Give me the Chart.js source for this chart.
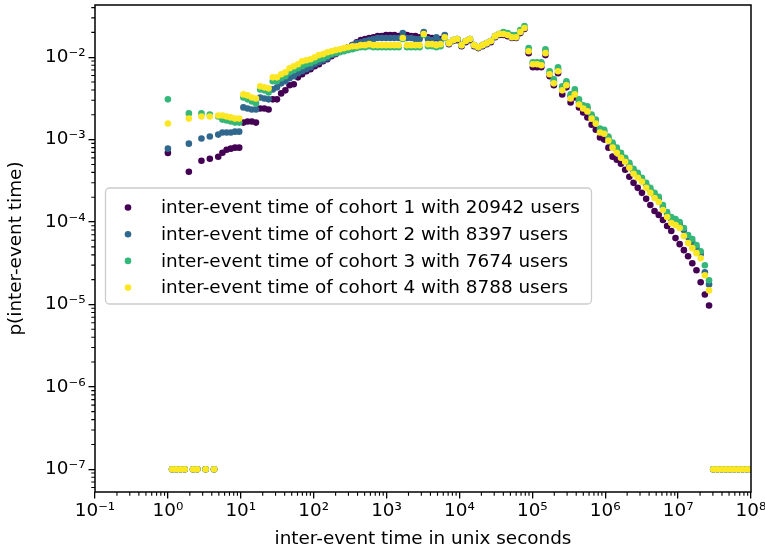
<!DOCTYPE html>
<html>
<head>
<meta charset="utf-8">
<script src="https://cdn.jsdelivr.net/npm/chart.js@4.4.0/dist/chart.umd.min.js"></script>
<style>
  html, body { margin: 0; padding: 0; background: #fff; }
  #wrap { width: 765px; height: 554px; }
</style>
</head>
<body>
<div id="wrap"><canvas id="chart"></canvas></div>
<script>
// left edge of each log bin (seconds)
const binStarts = [
  1, 1.142, 1.303, 1.488, 1.699, 1.940, 2.215, 2.529, 2.887, 3.296,
  3.763, 4.296, 4.905, 5.600, 6.394, 7.300, 8.334, 9.515, 10.86, 12.40,
  14.16, 16.17, 18.46, 21.07, 24.06, 27.47, 31.36, 35.81, 40.88, 46.67,
  53.29, 60.84, 69.46, 79.30, 90.54, 103.4, 118.0, 134.8, 153.8, 175.6,
  200.5, 229.0, 261.4, 298.4, 340.7, 389.0, 444.1, 507.1, 578.9, 661.0,
  754.6, 861.6, 983.7, 1123, 1282, 1464, 1671, 1908, 2179, 2487,
  2840, 3242, 3702, 4226, 4825, 5509, 6290, 7181, 8199, 9361,
  10690, 12200, 13930, 15900, 18160, 20730, 23670, 27020, 30850, 35230,
  40220, 45920, 52420, 59850, 68330, 78020, 89070, 101700, 116100, 132600,
  151300, 172800, 197300, 225200, 257200, 293600, 335200, 382700, 436900, 498800,
  569500, 650200, 742400, 847600, 967700, 1.105e6, 1.261e6, 1.440e6, 1.644e6, 1.877e6,
  2.143e6, 2.447e6, 2.794e6, 3.190e6, 3.642e6, 4.158e6, 4.747e6, 5.419e6, 6.187e6, 7.064e6,
  8.065e6, 9.208e6, 1.051e7, 1.200e7, 1.370e7, 1.565e7, 1.786e7, 2.039e7, 2.328e7, 2.658e7,
  3.035e7, 3.465e7, 3.956e7, 4.517e7, 5.157e7, 5.888e7, 6.722e7, 7.674e7, 8.762e7, 1e8
];

// empty bins are plotted at 1e-7
const cohort1 = [
  6.9e-4, 1e-7, 1e-7, 1e-7, 1e-7, 4.07e-4, 1e-7, 1e-7, 5.55e-4, 1e-7,
  5.87e-4, 1e-7, 6.2e-4, 6.94e-4, 7.55e-4, 7.77e-4, 7.99e-4, 7.99e-4, 1.61e-3, 1.66e-3,
  1.66e-3, 1.61e-3, 2.39e-3, 2.39e-3, 2.32e-3, 3.08e-3, 3.08e-3, 3.64e-3, 3.96e-3, 4.56e-3,
  4.69e-3, 5.70e-3, 6.21e-3, 6.75e-3, 7.14e-3, 7.77e-3, 8.22e-3, 8.94e-3, 9.45e-3, 1.03e-2,
  1.09e-2, 1.18e-2, 1.25e-2, 1.32e-2, 1.40e-2, 1.52e-2, 1.61e-2, 1.66e-2, 1.71e-2, 1.75e-2,
  1.80e-2, 1.80e-2, 1.86e-2, 1.86e-2, 1.86e-2, 1.80e-2, 1.91e-2, 1.86e-2, 1.80e-2, 1.80e-2,
  1.75e-2, 1.96e-2, 1.75e-2, 1.71e-2, 1.71e-2, 1.66e-2, 1.80e-2, 1.44e-2, 1.57e-2, 1.61e-2,
  1.36e-2, 1.52e-2, 1.61e-2, 1.36e-2, 1.29e-2, 1.36e-2, 1.44e-2, 1.52e-2, 1.75e-2, 1.86e-2,
  1.86e-2, 1.80e-2, 1.71e-2, 1.71e-2, 1.96e-2, 2.20e-2, 1.12e-2, 7.55e-3, 7.55e-3, 7.55e-3,
  1.06e-2, 5.87e-3, 4.56e-3, 6.38e-3, 3.54e-3, 4.31e-3, 2.83e-3, 3.25e-3, 2.46e-3, 2.13e-3,
  1.86e-3, 1.52e-3, 1.32e-3, 1.06e-3, 1.00e-3, 7.99e-4, 6.21e-4, 5.70e-4, 5.10e-4, 4.31e-4,
  3.54e-4, 2.99e-4, 2.60e-4, 2.26e-4, 1.91e-4, 1.61e-4, 1.36e-4, 1.22e-4, 1.06e-4, 8.94e-5,
  7.77e-5, 6.38e-5, 5.39e-5, 4.56e-5, 3.85e-5, 3.16e-5, 2.60e-5, 1.86e-5, 1.32e-5, 9.72e-6,
  1e-7, 1e-7, 1e-7, 1e-7, 1e-7, 1e-7, 1e-7, 1e-7, 1e-7, 1e-7
];
const cohort2 = [
  7.77e-4, 1e-7, 1e-7, 1e-7, 1e-7, 8.94e-4, 1e-7, 1e-7, 1.03e-3, 1e-7,
  1.09e-3, 1e-7, 1.15e-3, 1.22e-3, 1.22e-3, 1.22e-3, 1.25e-3, 1.25e-3, 2.46e-3, 2.39e-3,
  2.32e-3, 2.32e-3, 3.25e-3, 3.16e-3, 3.08e-3, 4.07e-3, 4.31e-3, 4.82e-3, 5.10e-3, 5.55e-3,
  5.87e-3, 6.38e-3, 6.75e-3, 7.14e-3, 7.55e-3, 8.22e-3, 8.69e-3, 9.19e-3, 9.72e-3, 1.06e-2,
  1.12e-2, 1.18e-2, 1.25e-2, 1.32e-2, 1.40e-2, 1.48e-2, 1.52e-2, 1.57e-2, 1.61e-2, 1.66e-2,
  1.71e-2, 1.71e-2, 1.71e-2, 1.71e-2, 1.71e-2, 1.71e-2, 1.96e-2, 1.71e-2, 1.71e-2, 1.66e-2,
  1.66e-2, 2.02e-2, 1.66e-2, 1.61e-2, 1.75e-2, 1.57e-2, 1.86e-2, 1.48e-2, 1.61e-2, 1.66e-2,
  1.40e-2, 1.57e-2, 1.66e-2, 1.40e-2, 1.32e-2, 1.40e-2, 1.48e-2, 1.57e-2, 1.80e-2, 1.91e-2,
  1.91e-2, 1.86e-2, 1.75e-2, 1.75e-2, 2.02e-2, 2.26e-2, 1.22e-2, 8.45e-3, 8.45e-3, 8.45e-3,
  1.18e-2, 6.38e-3, 5.10e-3, 7.14e-3, 4.07e-3, 4.82e-3, 3.35e-3, 3.74e-3, 2.83e-3, 2.46e-3,
  2.39e-3, 1.91e-3, 1.66e-3, 1.29e-3, 1.25e-3, 1.03e-3, 8.69e-4, 7.55e-4, 6.56e-4, 5.70e-4,
  4.96e-4, 4.19e-4, 3.74e-4, 3.25e-4, 2.83e-4, 2.46e-4, 2.13e-4, 1.91e-4, 1.52e-4, 1.25e-4,
  1.09e-4, 1.03e-4, 9.45e-5, 7.99e-5, 6.56e-5, 5.70e-5, 4.82e-5, 4.07e-5, 2.46e-5, 1.75e-5,
  1e-7, 1e-7, 1e-7, 1e-7, 1e-7, 1e-7, 1e-7, 1e-7, 1e-7, 1e-7
];
const cohort3 = [
  3.08e-3, 1e-7, 1e-7, 1e-7, 1e-7, 2.08e-3, 1e-7, 1e-7, 2.08e-3, 1e-7,
  2.02e-3, 1e-7, 1.91e-3, 1.75e-3, 1.71e-3, 1.66e-3, 1.61e-3, 1.61e-3, 3.25e-3, 3.08e-3,
  2.91e-3, 2.75e-3, 4.07e-3, 3.96e-3, 3.74e-3, 5.10e-3, 5.10e-3, 5.55e-3, 5.87e-3, 6.56e-3,
  6.94e-3, 7.34e-3, 7.77e-3, 8.22e-3, 8.45e-3, 8.94e-3, 9.45e-3, 9.72e-3, 1.03e-2, 1.09e-2,
  1.12e-2, 1.15e-2, 1.18e-2, 1.22e-2, 1.25e-2, 1.29e-2, 1.32e-2, 1.32e-2, 1.36e-2, 1.32e-2,
  1.32e-2, 1.32e-2, 1.32e-2, 1.32e-2, 1.32e-2, 1.32e-2, 1.66e-2, 1.32e-2, 1.32e-2, 1.32e-2,
  1.32e-2, 1.86e-2, 1.36e-2, 1.36e-2, 1.32e-2, 1.36e-2, 1.71e-2, 1.48e-2, 1.61e-2, 1.66e-2,
  1.40e-2, 1.57e-2, 1.66e-2, 1.40e-2, 1.32e-2, 1.40e-2, 1.48e-2, 1.57e-2, 1.80e-2, 1.91e-2,
  2.02e-2, 1.96e-2, 1.86e-2, 1.86e-2, 2.14e-2, 2.39e-2, 1.29e-2, 8.69e-3, 8.69e-3, 8.69e-3,
  1.25e-2, 6.75e-3, 5.39e-3, 7.55e-3, 4.43e-3, 5.10e-3, 3.54e-3, 4.07e-3, 3.08e-3, 2.60e-3,
  2.53e-3, 2.02e-3, 1.75e-3, 1.36e-3, 1.32e-3, 1.09e-3, 9.19e-4, 7.99e-4, 6.94e-4, 6.03e-4,
  5.24e-4, 4.43e-4, 3.96e-4, 3.44e-4, 2.99e-4, 2.60e-4, 2.26e-4, 2.02e-4, 1.61e-4, 1.32e-4,
  1.15e-4, 1.09e-4, 1.00e-4, 8.45e-5, 6.94e-5, 6.21e-5, 5.24e-5, 4.43e-5, 2.99e-5, 1.96e-5,
  1e-7, 1e-7, 1e-7, 1e-7, 1e-7, 1e-7, 1e-7, 1e-7, 1e-7, 1e-7
];
const cohort4 = [
  1.57e-3, 1e-7, 1e-7, 1e-7, 1e-7, 1.80e-3, 1e-7, 1e-7, 1.91e-3, 1e-7,
  1.91e-3, 1e-7, 1.96e-3, 1.96e-3, 1.91e-3, 1.86e-3, 1.80e-3, 1.80e-3, 3.54e-3, 3.44e-3,
  3.25e-3, 3.16e-3, 4.43e-3, 4.31e-3, 4.19e-3, 5.70e-3, 5.70e-3, 6.21e-3, 6.56e-3, 7.34e-3,
  7.77e-3, 8.22e-3, 8.94e-3, 9.19e-3, 9.45e-3, 1.00e-2, 1.06e-2, 1.09e-2, 1.15e-2, 1.18e-2,
  1.22e-2, 1.25e-2, 1.29e-2, 1.32e-2, 1.36e-2, 1.36e-2, 1.40e-2, 1.40e-2, 1.44e-2, 1.40e-2,
  1.40e-2, 1.40e-2, 1.40e-2, 1.40e-2, 1.40e-2, 1.40e-2, 1.71e-2, 1.40e-2, 1.40e-2, 1.40e-2,
  1.40e-2, 1.91e-2, 1.44e-2, 1.44e-2, 1.40e-2, 1.44e-2, 1.75e-2, 1.48e-2, 1.61e-2, 1.66e-2,
  1.40e-2, 1.57e-2, 1.66e-2, 1.40e-2, 1.32e-2, 1.40e-2, 1.48e-2, 1.57e-2, 1.80e-2, 1.91e-2,
  1.91e-2, 1.86e-2, 1.75e-2, 1.75e-2, 2.02e-2, 2.26e-2, 1.18e-2, 8.22e-3, 8.22e-3, 7.99e-3,
  1.12e-2, 6.21e-3, 4.82e-3, 6.75e-3, 3.96e-3, 4.56e-3, 3.16e-3, 3.54e-3, 2.67e-3, 2.39e-3,
  2.20e-3, 1.80e-3, 1.57e-3, 1.22e-3, 1.18e-3, 9.72e-4, 7.99e-4, 6.94e-4, 6.03e-4, 5.39e-4,
  4.56e-4, 3.85e-4, 3.44e-4, 3.08e-4, 2.60e-4, 2.26e-4, 1.96e-4, 1.75e-4, 1.40e-4, 1.15e-4,
  9.72e-5, 9.19e-5, 8.45e-5, 6.75e-5, 5.55e-5, 4.82e-5, 4.19e-5, 3.64e-5, 2.26e-5, 1.48e-5,
  1e-7, 1e-7, 1e-7, 1e-7, 1e-7, 1e-7, 1e-7, 1e-7, 1e-7, 1e-7
];

const cohortLabels = [
  'inter-event time of cohort 1 with 20942 users',
  'inter-event time of cohort 2 with 8397 users',
  'inter-event time of cohort 3 with 7674 users',
  'inter-event time of cohort 4 with 8788 users'
];
const cohortColors = ['#440154', '#31688e', '#35b779', '#fde725'];
const xTickPowers = [-1, 0, 1, 2, 3, 4, 5, 6, 7, 8];
const yTickPowers = [-7, -6, -5, -4, -3, -2];

const FONT = 'DejaVu Sans';
Chart.defaults.font.family = FONT;
Chart.defaults.font.size = 18.4;
Chart.defaults.color = '#000';

const sup = { '-': '\u207B', '0': '\u2070', '1': '\u00B9', '2': '\u00B2', '3': '\u00B3',
  '4': '\u2074', '5': '\u2075', '6': '\u2076', '7': '\u2077', '8': '\u2078', '9': '\u2079' };
function powLabel(v) {
  const p = Math.round(Math.log10(v));
  return '10' + String(p).split('').map(c => sup[c]).join('');
}

const series = [cohort1, cohort2, cohort3, cohort4];
const datasets = series.map((ys, i) => ({
  label: cohortLabels[i],
  data: binStarts.map((x, j) => ({ x, y: ys[j] })),
  backgroundColor: cohortColors[i],
  borderWidth: 0,
  pointRadius: 3.3,
  pointHoverRadius: 3.3,
  order: 4 - i   // later cohorts drawn on top
}));

// minor ticks, frame and legend drawn through the chart's own scales
const decorations = {
  id: 'decorations',
  afterDraw(chart) {
    const { ctx, chartArea: a, scales: { x, y } } = chart;
    ctx.save();
    ctx.strokeStyle = '#000';
    ctx.lineWidth = 1.1;
    ctx.beginPath();
    for (let p = -1; p < 8; p++) {
      for (let m = 2; m <= 9; m++) {
        const px = x.getPixelForValue(m * Math.pow(10, p));
        ctx.moveTo(px, a.bottom);
        ctx.lineTo(px, a.bottom + 3.7);
      }
    }
    for (let p = -8; p < -1; p++) {
      for (let m = 2; m <= 9; m++) {
        const v = m * Math.pow(10, p);
        if (v < y.min || v > y.max) continue;
        const py = y.getPixelForValue(v);
        ctx.moveTo(a.left, py);
        ctx.lineTo(a.left - 3.7, py);
      }
    }
    ctx.stroke();
    ctx.lineWidth = 1.5;
    ctx.strokeRect(a.left, a.top, a.right - a.left, a.bottom - a.top);

    // legend (matplotlib style, centre left)
    const rowH = 26.7, boxW = 486, boxH = 116;
    const bx = a.left + 10, by = (a.top + a.bottom) / 2 - boxH / 2 - 3;
    ctx.beginPath();
    ctx.roundRect(bx + 0.5, by + 0.5, boxW, boxH, 4);
    ctx.fillStyle = 'rgba(255,255,255,0.8)';
    ctx.fill();
    ctx.strokeStyle = '#cccccc';
    ctx.lineWidth = 1.3;
    ctx.stroke();
    ctx.font = '18.4px "' + FONT + '"';
    ctx.textBaseline = 'middle';
    ctx.textAlign = 'left';
    chart.data.datasets.forEach((ds, i) => {
      const cy = by + 20 + i * rowH;
      ctx.beginPath();
      ctx.arc(bx + 23, cy, 3.3, 0, Math.PI * 2);
      ctx.fillStyle = ds.backgroundColor;
      ctx.fill();
      ctx.fillStyle = '#000';
      ctx.fillText(ds.label, bx + 56, cy + 1);
    });
    ctx.restore();
  }
};

new Chart(document.getElementById('chart'), {
  type: 'scatter',
  data: { datasets },
  options: {
    responsive: true,
    maintainAspectRatio: false,
    animation: false,
    devicePixelRatio: 1,
    layout: { padding: { left: 0, right: 14, top: 5, bottom: 0 } },
    plugins: { legend: { display: false }, tooltip: { enabled: false } },
    scales: {
      x: {
        type: 'logarithmic',
        min: 0.1,
        max: 1e8,
        afterBuildTicks: s => { s.ticks = xTickPowers.map(p => ({ value: Math.pow(10, p) })); },
        afterFit: s => { s.height = 62; s.paddingLeft = 0; s.paddingRight = 0; },
        ticks: { autoSkip: false, maxRotation: 0, padding: 2, callback: v => powLabel(v) },
        grid: { drawOnChartArea: false, color: '#000', lineWidth: 1.3, tickLength: 6.5 },
        border: { display: false },
        title: { display: true, text: 'inter-event time in unix seconds', padding: { top: 0, bottom: 4 } }
      },
      y: {
        type: 'logarithmic',
        min: 5.3e-8,
        max: 0.043,
        afterBuildTicks: s => { s.ticks = yTickPowers.map(p => ({ value: Math.pow(10, p) })); },
        afterFit: s => { s.width = 95; s.paddingTop = 0; s.paddingBottom = 0; },
        ticks: { autoSkip: false, padding: 3, callback: v => powLabel(v) },
        grid: { drawOnChartArea: false, color: '#000', lineWidth: 1.3, tickLength: 6.5 },
        border: { display: false },
        title: { display: true, text: 'p(inter-event time)', padding: { top: 5, bottom: 0 } }
      }
    }
  },
  plugins: [decorations]
});
</script>
</body>
</html>
